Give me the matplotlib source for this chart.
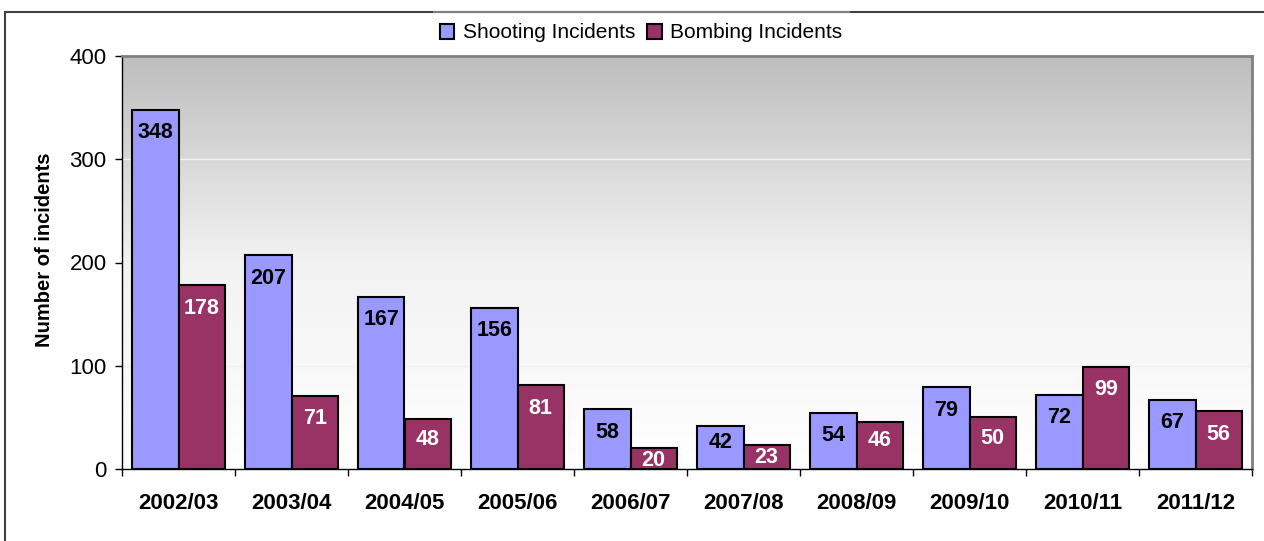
import numpy as np
import matplotlib
matplotlib.use('Agg')
import matplotlib.pyplot as plt
from matplotlib.patches import Rectangle
from matplotlib.lines import Line2D
from matplotlib.colors import LinearSegmentedColormap

plt.rcParams['font.family'] = ['Liberation Sans', 'DejaVu Sans']

years = ['2002/03', '2003/04', '2004/05', '2005/06', '2006/07',
         '2007/08', '2008/09', '2009/10', '2010/11', '2011/12']
shooting = [348, 207, 167, 156, 58, 42, 54, 79, 72, 67]
bombing = [178, 71, 48, 81, 20, 23, 46, 50, 99, 56]

SHOOT = '#9999FF'
BOMB = '#993366'

fig = plt.figure(figsize=(12.64, 5.41), dpi=100)
ax = fig.add_axes([122/1264, 1 - 469/541, (1252 - 122)/1264, (469 - 56)/541])

# gradient background
cmap = LinearSegmentedColormap.from_list('bg', ['#ffffff', '#f2f2f2', '#bebebe'])
grad = np.linspace(0, 1, 256).reshape(-1, 1)
ax.imshow(grad, extent=[-0.5, 9.5, 0, 400], origin='lower', aspect='auto',
          cmap=cmap, zorder=0)

x = np.arange(len(years))
w = 0.41
ax.bar(x - w/2, shooting, w, color=SHOOT, edgecolor='black', lw=1.5, zorder=3,
       label='Shooting Incidents')
ax.bar(x + w/2, bombing, w, color=BOMB, edgecolor='black', lw=1.5, zorder=3,
       label='Bombing Incidents')

px_per_unit = 413 / 400

def label_offset(v):
    # label centre sits ~23px under the bar top, closer in for short bars
    bar_px = v * px_per_unit
    return -min(23, max(0.4 * bar_px, 12)) * 72 / 100

for i in range(len(years)):
    ax.annotate(str(shooting[i]), (x[i] - w/2, shooting[i]),
                xytext=(0, label_offset(shooting[i])),
                textcoords='offset points', ha='center', va='center',
                fontsize=15.5, fontweight='bold', color='black', zorder=4,
                annotation_clip=False, clip_on=True)
    ax.annotate(str(bombing[i]), (x[i] + w/2, bombing[i]),
                xytext=(0, label_offset(bombing[i])),
                textcoords='offset points', ha='center', va='center',
                fontsize=15.5, fontweight='bold', color='white', zorder=4,
                annotation_clip=False, clip_on=True)

ax.set_xlim(-0.5, 9.5)
ax.set_ylim(0, 400)
ax.set_yticks([0, 100, 200, 300, 400])
ax.tick_params(axis='y', labelsize=16, length=5, width=1, direction='out', pad=6)
for yv in [100, 200, 300]:
    ax.axhline(yv, color='#f2f2f2', lw=1, zorder=1)

ax.set_xticks(x)
ax.set_xticklabels(years, fontsize=16, fontweight='bold')
ax.tick_params(axis='x', length=0, pad=17)
ax.set_xticks(np.arange(-0.5, 10, 1), minor=True)
ax.tick_params(axis='x', which='minor', length=5, width=1, direction='out')

ax.set_ylabel('Number of incidents', fontsize=14.5, fontweight='bold', labelpad=11)
ax.yaxis.label.set_y((469 - 250) / 413)

for s in ['left', 'bottom']:
    ax.spines[s].set_color('black')
    ax.spines[s].set_linewidth(1)
for s in ['top', 'right']:
    ax.spines[s].set_color('#808080')
    ax.spines[s].set_linewidth(2)

# outer frame
fig.patches.append(Rectangle((5/1264, -0.1), 1.2, 1 - 12/541 + 0.1,
                             transform=fig.transFigure, fill=False,
                             edgecolor='#404040', lw=1.5, zorder=0))

leg = fig.legend(loc='center', bbox_to_anchor=(641/1264, 1 - 33/541), ncol=2,
                 fontsize=15, frameon=True, fancybox=False,
                 handlelength=0.7, handleheight=0.7, handletextpad=0.4,
                 columnspacing=0.6, borderpad=0.45)
leg.get_frame().set_linewidth(0)
leg.get_frame().set_facecolor('white')
leg.get_frame().set_alpha(1)
for h in leg.legend_handles:
    h.set_edgecolor('black')
    h.set_linewidth(1.5)
fig.lines.append(Line2D([434/1264, 849/1264], [1 - 12/541, 1 - 12/541],
                        transform=fig.transFigure, color='#808080', lw=1.5,
                        zorder=5))

fig.savefig('out.png', dpi=100, facecolor='white')
